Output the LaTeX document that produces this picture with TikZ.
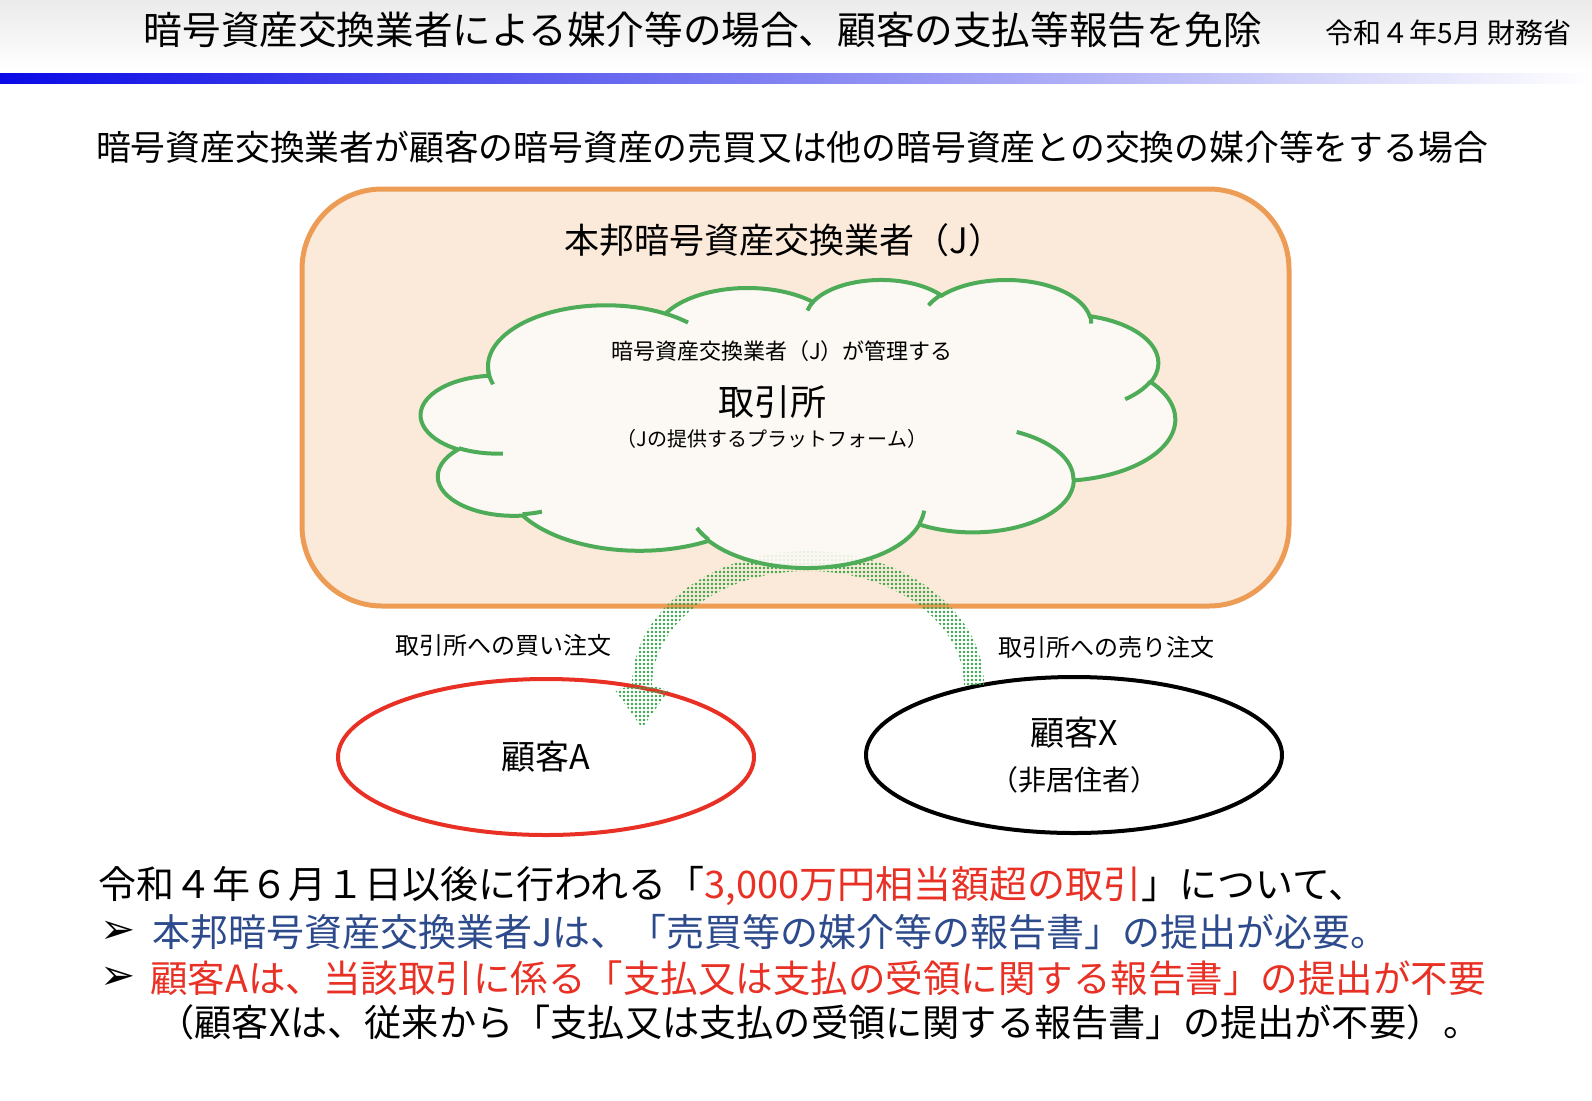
\documentclass[tikz,border=0pt]{standalone}
\usepackage{fontspec}
\setmainfont{Noto Sans CJK JP}
\newfontfamily\symfont{DejaVu Sans}
\usetikzlibrary{shapes.geometric, patterns.meta, positioning}
\definecolor{boxedge}{RGB}{237,156,85}
\definecolor{boxfill}{RGB}{251,234,218}
\definecolor{cloudedge}{RGB}{78,172,88}
\definecolor{cloudfill}{RGB}{253,250,247}
\definecolor{arrowgreen}{RGB}{50,165,70}
\definecolor{custred}{RGB}{232,48,36}
\definecolor{noteblue}{RGB}{45,75,140}
\definecolor{barblue}{RGB}{10,10,230}
\newcommand*{\jsize}[1]{\fontsize{#1}{#1}\selectfont}

\begin{document}
\begin{tikzpicture}[x=0.5pt, y=-0.5pt,
      every node/.style={inner sep=0pt},
      customer/.style={ellipse, draw, line width=2pt, fill=white, minimum width=208pt, minimum height=78pt},
      label/.style={font=\jsize{12pt}},
      note/.style={anchor=west, font=\jsize{19pt}},
      bullet/.style={anchor=west, font=\symfont\jsize{21pt}}]
      \useasboundingbox (0,0) rectangle (1592,1100);
      % header
      \shade[top color=black!8, bottom color=white] (0,0) rectangle (1592,70);
      \shade[left color=barblue, right color=white] (0,73) rectangle (1592,83);
      \node (title) at (703,30) {\jsize{19.3pt}暗号資産交換業者による媒介等の場合、顧客の支払等報告を免除};
      \node[anchor=east] (ministry) at (1572,33) {\jsize{14pt}令和４年5月 財務省};
      \node (case) at (792,147) {\jsize{17.4pt}暗号資産交換業者が顧客の暗号資産の売買又は他の暗号資産との交換の媒介等をする場合};

      % exchange operator
      \draw[draw=boxedge, fill=boxfill, line width=2.5pt, rounded corners=40pt] (302,189) rectangle (1289,606);
      \node (operator) at (784,240) {\jsize{17.5pt}本邦暗号資産交換業者（J）};

      % customers
      \node[customer, draw=custred] (custA) at (546,757) {\jsize{17pt}顧客A};
      \node[customer, draw=black, align=center] (custX) at (1074,755) {\jsize{17pt}顧客X\\[8pt]\jsize{14pt}（非居住者）};

      % order flow
      \fill[pattern={Dots[distance=2pt, radius=0.7pt]}, pattern color=arrowgreen]
        (984,686) arc[start angle=0, end angle=-180, x radius=176, y radius=135]
        -- (615,690) -- (642,728) -- (669,690) -- (652,686)
        arc[start angle=-180, end angle=0, x radius=156, y radius=115] -- cycle;
      \node[label] (buy) at (503,645) {取引所への買い注文};
      \node[label] (sell) at (1106,647) {取引所への売り注文};

      % exchange platform (cloud outline)
      \begin{scope}[shift={(421,279)}, x=0.8727pt, y=-0.3333pt, draw=cloudedge, line width=2pt]
        \filldraw[fill=cloudfill, fill opacity=0.88] (39.00,143.70)
          arc[start angle=-187.75, end angle=-59.64, x radius=67.53, y radius=91.90]
          arc[start angle=-151.98, end angle=-45.48, x radius=53.33, y radius=72.67]
          arc[start angle=-153.46, end angle=-37.35, x radius=43.65, y radius=59.45]
          arc[start angle=-139.77, end angle=-10.20, x radius=48.57, y radius=65.95]
          arc[start angle=-74.80, end angle=23.26, x radius=53.33, y radius=72.73]
          arc[start angle=-37.54, end angle=81.86, x radius=67.75, y radius=92.20]
          arc[start angle=0.46, end angle=121.99, x radius=57.85, y radius=78.67]
          arc[start angle=16.89, end angle=146.15, x radius=67.52, y radius=92.15]
          arc[start angle=59.09, end angle=150.09, x radius=77.20, y radius=105.43]
          arc[start angle=83.29, end angle=223.05, x radius=43.60, y radius=59.18]
          arc[start angle=120.21, end angle=264.14, x radius=43.45, y radius=59.45] -- cycle;
        \draw (46.93,261.77) arc[start angle=85.57, end angle=120.21, x radius=43.45, y radius=59.45];
        \draw (69.28,348.99) arc[start angle=68.23, end angle=83.29, x radius=43.60, y radius=59.18];
        \draw (164.78,390.90) arc[start angle=146.15, end angle=158.41, x radius=67.52, y radius=92.15];
        \draw (288.27,347.51) arc[start angle=4.74, end angle=16.89, x radius=67.52, y radius=92.15];
        \draw (341.29,229.54) arc[start angle=-64.01, end angle=0.46, x radius=57.85, y radius=78.67];
        \draw (417.98,153.54) arc[start angle=23.26, end angle=49.71, x radius=53.33, y radius=72.73];
        \draw (383.24,54.26) arc[start angle=-10.20, end angle=0.82, x radius=48.57, y radius=65.95];
        \draw (290.78,39.52) arc[start angle=-156.33, end angle=-139.77, x radius=48.57, y radius=65.95];
        \draw (221.41,47.20) arc[start angle=-167.71, end angle=-153.46, x radius=43.65, y radius=59.45];
        \draw (140.00,51.92) arc[start angle=-59.64, end angle=-45.75, x radius=67.53, y radius=91.90];
        \draw (41.27,157.89) arc[start angle=163.06, end angle=179.26, x radius=67.53, y radius=91.90];
      \end{scope}
      \node (managed) at (782,351) {\jsize{11pt}暗号資産交換業者（J）が管理する};
      \node (market) at (772,402) {\jsize{18pt}取引所};
      \node (platform) at (772,439) {\jsize{10pt}（Jの提供するプラットフォーム）};

      % notes
      \node[note] (line1) at (98,886) {令和４年６月１日以後に行われる「\textcolor{custred}{3,000万円相当額超の取引}」について、};
      \node[bullet] (b1) at (100,932) {➢};
      \node[note, text=noteblue] (line2) at (152,932) {本邦暗号資産交換業者Jは、「売買等の媒介等の報告書」の提出が必要。};
      \node[bullet] (b2) at (100,978) {➢};
      \node[note, text=custred, font=\jsize{18.75pt}] (line3) at (150,978) {顧客Aは、当該取引に係る「支払又は支払の受領に関する報告書」の提出が不要};
      \node[note, font=\jsize{18.6pt}] (line4) at (157,1022) {（顧客Xは、従来から「支払又は支払の受領に関する報告書」の提出が不要）。};
    \end{tikzpicture}
\end{document}
